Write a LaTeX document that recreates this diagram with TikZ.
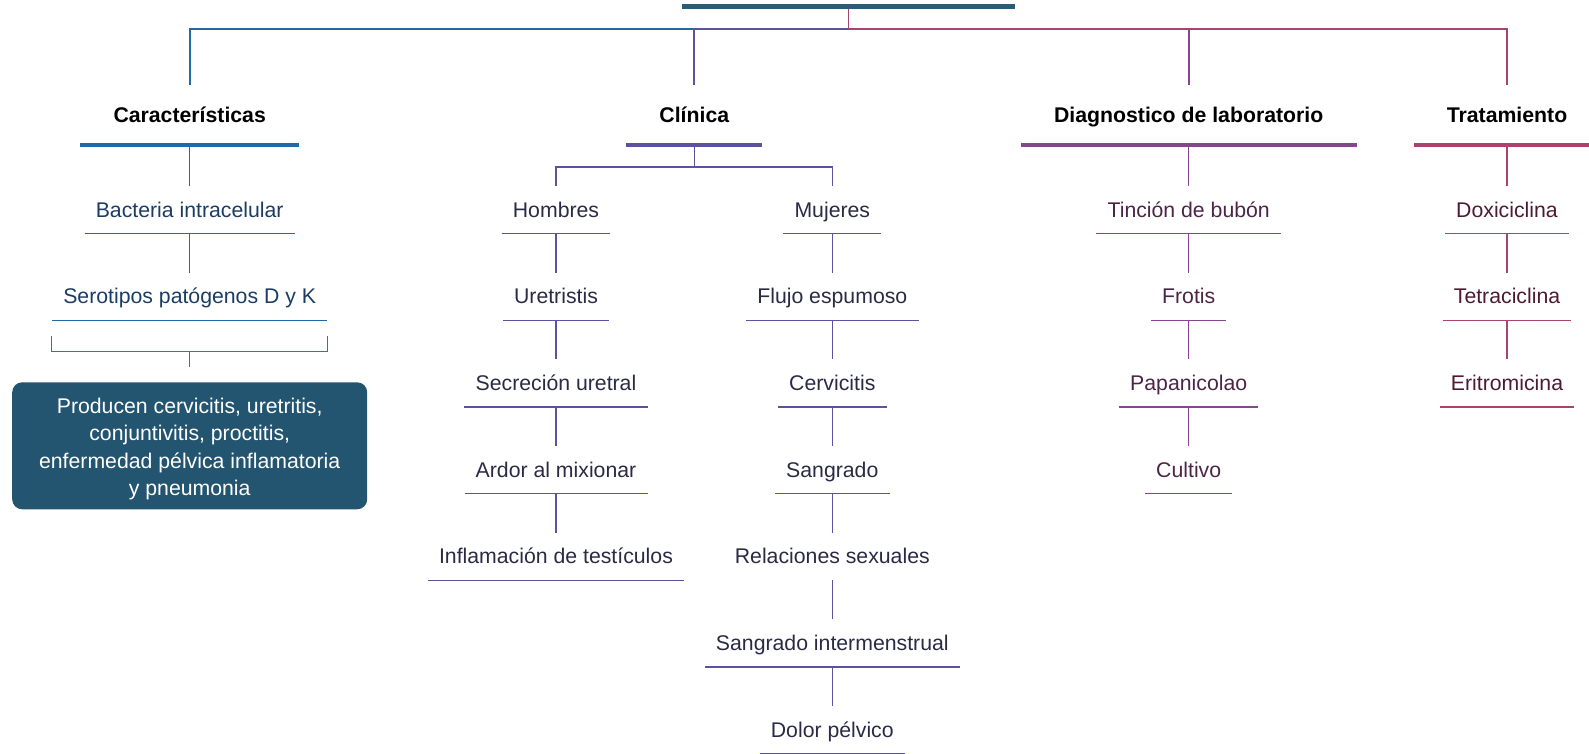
\documentclass[tikz,border=0pt]{standalone}
\usepackage{fontspec}
\setmainfont{Liberation Sans}
\definecolor{topc}{HTML}{2C5B77}
\definecolor{boxc}{HTML}{245570}
\definecolor{brkc}{HTML}{44708C}
\definecolor{carl}{HTML}{2369A6}
\definecolor{cart}{HTML}{1B3D63}
\definecolor{clil}{HTML}{5B539F}
\definecolor{clit}{HTML}{2B2A45}
\definecolor{dial}{HTML}{86458F}
\definecolor{diat}{HTML}{4A2548}
\definecolor{tral}{HTML}{A9446F}
\definecolor{trat}{HTML}{4B1C30}
\begin{document}
\begin{tikzpicture}[x=1pt,y=-1pt,
  leaf/.style={font=\fontsize{21.25}{25.5}\selectfont, inner xsep=11pt, inner ysep=0pt,
    text height=31pt, text depth=16.3pt, anchor=base},
  head/.style={font=\bfseries\fontsize{21.25}{25.5}\selectfont, text=black, inner xsep=33pt,
    inner ysep=0pt, text height=37.3pt, text depth=22.7pt, anchor=base},
  rootbar/.style={fill=topc, draw=none, inner sep=0pt, minimum width=333.6pt, minimum height=4.5pt},
  prodbox/.style={fill=boxc, draw=none, rounded corners=10pt, minimum width=355pt, minimum height=127pt,
    inner sep=0pt},
  prodtext/.style={text=white, align=center, inner sep=0pt, font=\fontsize{21.25}{27.5}\selectfont},
  thin/.style={line width=1.4pt},
  topline/.style={line width=1.8pt},
  barline/.style={line width=4.5pt}
]
\useasboundingbox (0,0) rectangle (1589,754);
\clip (0,0) rectangle (1589,754);

% root
\node[rootbar] (root) at (848.5,6.3) {};
\coordinate (hub) at (848.5,28.7);

% headings
\node[head] (carac) at (189.7,122.3) {Características};
\node[head] (clin) at (694.3,122.3) {Clínica};
\node[head] (diag) at (1188.7,122.3) {Diagnostico de laboratorio};
\node[head] (trat) at (1507,122.3) {Tratamiento};

% Caracteristicas column
\node[leaf, text=cart] (bact) at (189.7,217) {Bacteria intracelular};
\node[leaf, text=cart] (sero) at (189.7,303.7) {Serotipos patógenos D y K};
\node[prodbox] (prod) at (189.7,445.8) {};
\node[prodtext] (prodt) at (189.7,448.8) {Producen cervicitis, uretritis,\\conjuntivitis, proctitis,\\enfermedad pélvica inflamatoria\\y pneumonia};
\coordinate (bl) at (51.7,336);
\coordinate (br) at (327.7,336);
\coordinate (bm) at (189.7,351.3);
\coordinate (bm2) at (189.7,366.7);

% Clinica column
\coordinate (cj) at (694.3,167);
\node[leaf, text=clit] (hom) at (556,217) {Hombres};
\node[leaf, text=clit] (uret) at (556,303.7) {Uretristis};
\node[leaf, text=clit] (secr) at (556,390.4) {Secreción uretral};
\node[leaf, text=clit] (ardor) at (556,477.1) {Ardor al mixionar};
\node[leaf, text=clit] (infl) at (556,563.8) {Inflamación de testículos};
\node[leaf, text=clit] (muj) at (832.3,217) {Mujeres};
\node[leaf, text=clit] (flujo) at (832.3,303.7) {Flujo espumoso};
\node[leaf, text=clit] (cerv) at (832.3,390.4) {Cervicitis};
\node[leaf, text=clit] (sang) at (832.3,477.1) {Sangrado};
\node[leaf, text=clit] (rel) at (832.3,563.8) {Relaciones sexuales};
\node[leaf, text=clit] (sint) at (832.3,650.5) {Sangrado intermenstrual};
\node[leaf, text=clit] (dolor) at (832.3,737.2) {Dolor pélvico};

% Diagnostico column
\node[leaf, text=diat] (tinc) at (1188.7,217) {Tinción de bubón};
\node[leaf, text=diat] (frot) at (1188.7,303.7) {Frotis};
\node[leaf, text=diat] (papa) at (1188.7,390.4) {Papanicolao};
\node[leaf, text=diat] (cult) at (1188.7,477.1) {Cultivo};

% Tratamiento column
\node[leaf, text=trat] (doxi) at (1507,217) {Doxiciclina};
\node[leaf, text=trat] (tetra) at (1507,303.7) {Tetraciclina};
\node[leaf, text=trat] (erit) at (1507,390.4) {Eritromicina};

% top connectors
\draw[topline, carl] (hub) -| (carac.north);
\draw[topline, clil] (hub) -| (clin.north);
\draw[topline, dial] (hub) -| (diag.north);
\draw[topline, tral] (hub) -| (trat.north);
\draw[topline, tral] (root.south) -- (hub);

% heading bars
\draw[barline, carl] (carac.south west) -- (carac.south east);
\draw[barline, clil] (clin.south west) -- (clin.south east);
\draw[barline, dial] (diag.south west) -- (diag.south east);
\draw[barline, tral] (trat.south west) -- (trat.south east);

% underlines
\foreach \n in {bact,sero} \draw[thin, carl] (\n.south west) -- (\n.south east);
\foreach \n in {hom,uret,secr,ardor,infl,muj,flujo,cerv,sang,sint,dolor}
  \draw[thin, clil] (\n.south west) -- (\n.south east);
\foreach \n in {tinc,frot,papa,cult} \draw[thin, dial] (\n.south west) -- (\n.south east);
\foreach \n in {doxi,tetra,erit} \draw[thin, tral] (\n.south west) -- (\n.south east);

% vertical connectors
\draw[thin, carl] (carac.south) -- (bact.north);
\draw[thin, carl] (bact.south) -- (sero.north);
\draw[thin, brkc] (bl) |- (bm) -| (br);
\draw[thin, brkc] (bm) -- (bm2);

\draw[thin, clil] (clin.south) -- (cj);
\draw[thin, clil] (cj) -| (hom.north);
\draw[thin, clil] (cj) -| (muj.north);
\draw[thin, clil] (hom.south) -- (uret.north);
\draw[thin, clil] (uret.south) -- (secr.north);
\draw[thin, clil] (secr.south) -- (ardor.north);
\draw[thin, clil] (ardor.south) -- (infl.north);
\draw[thin, clil] (muj.south) -- (flujo.north);
\draw[thin, clil] (flujo.south) -- (cerv.north);
\draw[thin, clil] (cerv.south) -- (sang.north);
\draw[thin, clil] (sang.south) -- (rel.north);
\draw[thin, clil] (rel.south) -- (sint.north);
\draw[thin, clil] (sint.south) -- (dolor.north);

\draw[thin, dial] (diag.south) -- (tinc.north);
\draw[thin, dial] (tinc.south) -- (frot.north);
\draw[thin, dial] (frot.south) -- (papa.north);
\draw[thin, dial] (papa.south) -- (cult.north);

\draw[thin, tral] (trat.south) -- (doxi.north);
\draw[thin, tral] (doxi.south) -- (tetra.north);
\draw[thin, tral] (tetra.south) -- (erit.north);
\end{tikzpicture}
\end{document}
